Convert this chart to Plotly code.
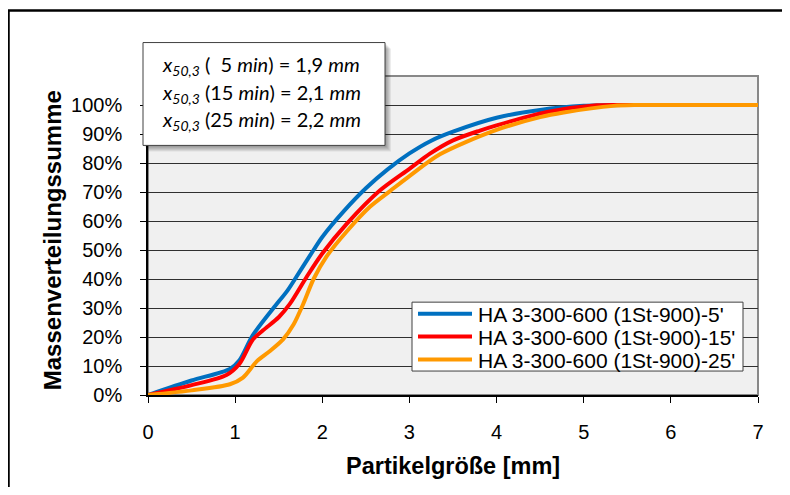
import plotly.graph_objects as go

# ---- data ----
x_5 = [0, 0.5, 0.94, 1.05, 1.2, 1.44, 1.6, 1.75, 1.9, 2.0, 2.25, 2.5, 2.75, 3.0, 3.25, 3.5, 4.0, 4.5, 5.0, 5.5, 6.0, 7.0]
y_5 = [0, 5.0, 9.0, 12.0, 20.5, 30.0, 36.0, 43.0, 50.0, 54.5, 63.5, 71.3, 77.8, 83.3, 87.7, 90.8, 95.6, 98.3, 99.7, 100, 100, 100]

x_15 = [0, 0.5, 0.9, 1.05, 1.2, 1.32, 1.5, 1.63, 1.82, 2.0, 2.28, 2.66, 3.0, 3.24, 3.5, 3.81, 4.0, 4.58, 5.15, 5.5, 6.0, 7.0]
y_15 = [0, 3.4, 6.9, 10.8, 19.0, 22.3, 26.8, 31.5, 40.7, 48.8, 59.0, 70.5, 78.0, 83.3, 87.8, 91.2, 93.0, 97.6, 99.9, 100, 100, 100]

x_25 = [0, 0.5, 0.94, 1.09, 1.25, 1.4, 1.55, 1.67, 1.78, 1.9, 2.05, 2.28, 2.55, 2.78, 3.0, 3.35, 3.96, 4.5, 4.77, 5.34, 5.6, 6.0, 7.0]
y_25 = [0, 1.6, 3.7, 6.0, 11.7, 15.2, 19.2, 24.3, 31.3, 40.0, 47.8, 56.4, 65.0, 70.4, 75.5, 83.0, 91.0, 95.8, 97.4, 99.7, 100, 100, 100]

series_names = ["HA 3-300-600 (1St-900)-5'", "HA 3-300-600 (1St-900)-15'", "HA 3-300-600 (1St-900)-25'"]
series_colors = ["#0070C0", "#FF0000", "#FF9900"]

y_ticks = [0, 10, 20, 30, 40, 50, 60, 70, 80, 90, 100]
y_ticklabels = [f"{v}%" for v in y_ticks]
x_ticks = [0, 1, 2, 3, 4, 5, 6, 7]

info_lines = [
    "<i>x<sub>50,3</sub></i> (  5 <i>min</i>) = 1,9 <i>mm</i>",
    "<i>x<sub>50,3</sub></i> (15 <i>min</i>) = 2,1 <i>mm</i>",
    "<i>x<sub>50,3</sub></i> (25 <i>min</i>) = 2,2 <i>mm</i>",
]

# ---- layout geometry (reference-image pixels; page body adds an 8px offset) ----
OFF = 8
W, H = 790 - 2 * OFF, 495 - 2 * OFF
L, R, T, B = 148, 758, 75.5, 395   # plot area in reference pixels


def px(xp):
    return (xp - L) / (R - L)


def py(yp):
    return (B - yp) / (B - T)


fig = go.Figure()
for xs, ys, name, col in zip([x_5, x_15, x_25], [y_5, y_15, y_25], series_names, series_colors):
    fig.add_trace(go.Scatter(
        x=xs, y=[v / 100 for v in ys], mode="lines", name=name,
        line=dict(color=col, width=4, shape="spline", smoothing=0.8),
    ))

shapes = []
# outer chart border (top and left visible)
shapes.append(dict(type="line", xref="paper", yref="paper", x0=px(8), x1=px(800), y0=py(10), y1=py(10),
                   line=dict(color="black", width=2.5), layer="above"))
shapes.append(dict(type="line", xref="paper", yref="paper", x0=px(8.5), x1=px(8.5), y0=py(10), y1=py(510),
                   line=dict(color="black", width=2.5), layer="above"))
# plot area border
shapes.append(dict(type="rect", xref="paper", yref="paper", x0=0, x1=1, y0=0, y1=1,
                   line=dict(color="#888888", width=2), layer="below"))
# info box shadow + box
bx0, bx1, by0, by1 = 143, 385, 42, 145
for k in range(1, 7):
    shapes.append(dict(type="rect", xref="paper", yref="paper",
                       x0=px(bx0 + k), x1=px(bx1 + k), y0=py(by1 + k), y1=py(by0 + k),
                       line=dict(width=0), fillcolor="rgba(0,0,0,0.07)", layer="above"))
shapes.append(dict(type="rect", xref="paper", yref="paper",
                   x0=px(bx0), x1=px(bx1), y0=py(by1), y1=py(by0),
                   line=dict(color="#404040", width=1), fillcolor="white", layer="above"))

# legend box (drawn manually to match the reference's tight line spacing)
lx0, lx1, ly0, ly1 = 412, 743, 302, 371
shapes.append(dict(type="rect", xref="paper", yref="paper",
                   x0=px(lx0), x1=px(lx1), y0=py(ly1), y1=py(ly0),
                   line=dict(color="#404040", width=1), fillcolor="white", layer="above"))
legend_rows = [313.5, 336.5, 359.5]
annotations = []
for name, col, yr in zip(series_names, series_colors, legend_rows):
    shapes.append(dict(type="line", xref="paper", yref="paper",
                       x0=px(418), x1=px(472), y0=py(yr), y1=py(yr),
                       line=dict(color=col, width=4), layer="above"))
    annotations.append(dict(text=name, xref="paper", yref="paper", x=px(476), y=py(yr + 0.5),
                            xanchor="left", yanchor="middle", showarrow=False,
                            font=dict(family="Liberation Sans", size=21, color="black")))

for txt, yl in zip(info_lines, [65, 93, 120]):
    annotations.append(dict(text=txt, xref="paper", yref="paper", x=px(160), y=py(yl),
                            xanchor="left", yanchor="middle", showarrow=False,
                            font=dict(family="Lato", size=20, color="black")))
annotations.append(dict(text="<b>Partikelgröße [mm]</b>", xref="paper", yref="paper",
                        x=px(453), y=py(466), xanchor="center", yanchor="middle", showarrow=False,
                        font=dict(family="Liberation Sans", size=23.5, color="black")))
annotations.append(dict(text="<b>Massenverteilungssumme</b>", xref="paper", yref="paper",
                        x=px(52), y=py(240), xanchor="center", yanchor="middle", showarrow=False,
                        textangle=-90,
                        font=dict(family="Liberation Sans", size=24, color="black")))

fig.update_layout(
    width=W, height=H, autosize=False,
    margin=dict(l=L - OFF, r=W - (R - OFF), t=T - OFF, b=H - (B - OFF), pad=0),
    paper_bgcolor="white", plot_bgcolor="#F0F0F0",
    font=dict(family="Liberation Sans", color="black"),
    showlegend=False,
    shapes=shapes, annotations=annotations,
)
fig.update_xaxes(range=[0, 7], tickvals=x_ticks, ticks="outside", ticklen=6, tickcolor="black",
                 showline=True, linecolor="black", linewidth=1.5, showgrid=False, zeroline=False,
                 tickfont=dict(family="Liberation Sans", size=20, color="black"),
                 ticklabelstandoff=12)
fig.update_yaxes(range=[0, 1.1], tickvals=[v / 100 for v in y_ticks], ticktext=y_ticklabels,
                 ticks="outside", ticklen=6, tickcolor="black",
                 showline=True, linecolor="black", linewidth=1.5, showgrid=True,
                 gridcolor="#303030", gridwidth=1, zeroline=False,
                 tickfont=dict(family="Liberation Sans", size=20, color="black"),
                 ticklabelstandoff=14)

fig.write_html("out.html", config={"displayModeBar": False})
